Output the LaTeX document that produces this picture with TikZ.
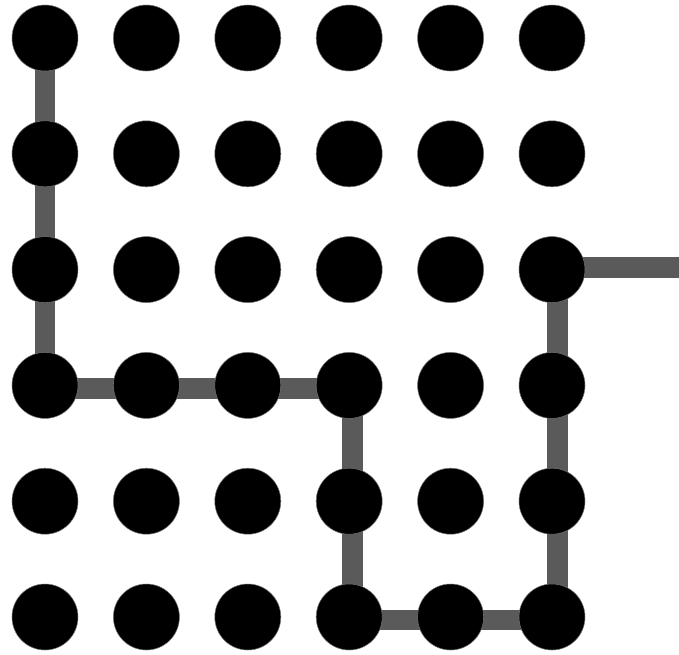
\documentclass[tikz,border=0pt]{standalone}
\usetikzlibrary{backgrounds}
\definecolor{wire}{RGB}{90,90,90}
\begin{document}
\begin{tikzpicture}[x=76.05pt,y=-86.85pt,
    dot/.style={circle,fill=black,draw=black!55,line width=0.4pt,minimum size=49.5pt,inner sep=0pt},
    track/.style={draw=wire,line width=15.5pt}]
    \useasboundingbox (-33.75pt,28.5pt) rectangle (475.5pt,-462pt);
    \foreach \c in {0,...,5}
      \foreach \r in {0,...,5}
        \node[dot] (d-\c-\r) at (\c,\r) {};
    \coordinate (exit) at ([xshift=96pt]d-5-2.center);
    \begin{scope}[on background layer]
      \draw[track] (d-0-0.center) -- ([yshift=-2.25pt]d-0-3.center)
        -- ([xshift=2.25pt,yshift=-2.25pt]d-3-3.center) -- ([xshift=2.25pt,yshift=-2.25pt]d-3-5.center)
        -- ([xshift=4pt,yshift=-2.25pt]d-5-5.center) -- ([xshift=4pt,yshift=1.5pt]d-5-2.center)
        -- ([yshift=1.5pt]exit);
    \end{scope}
  \end{tikzpicture}
\end{document}
